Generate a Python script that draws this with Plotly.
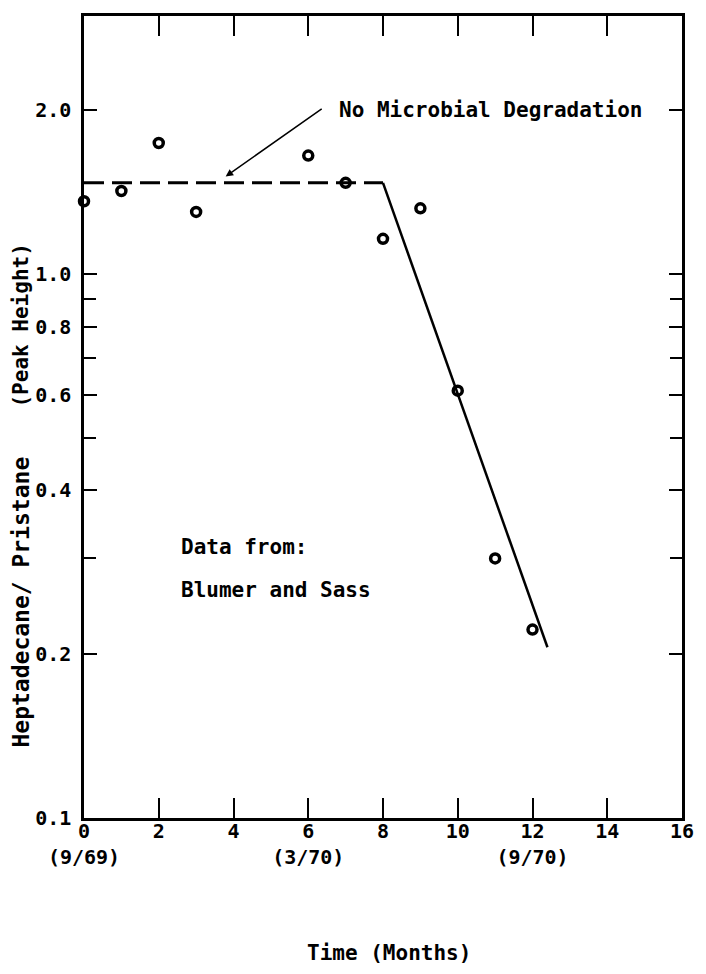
import math
import plotly.graph_objects as go

# ---- data ----
months = [0, 1, 2, 3, 6, 7, 8, 9, 10, 11, 12]
ratio = [1.36, 1.42, 1.74, 1.30, 1.65, 1.47, 1.16, 1.32, 0.61, 0.30, 0.222]

plateau_x = [0, 8]
plateau_y = [1.47, 1.47]
decline_x = [8, 12.4]
decline_y = [1.47, 0.206]

x_tickvals = [0, 2, 4, 6, 8, 10, 12, 14, 16]
x_ticktext = ["0<br>(9/69)", "2", "4", "6<br>(3/70)", "8", "10", "12<br>(9/70)", "14", "16"]
y_tickvals = [0.1, 0.2, 0.4, 0.6, 0.8, 1.0, 2.0]
y_ticktext = ["0.1", "0.2", "0.4", "0.6", "0.8", "1.0", "2.0"]
y_minorvals = [0.3, 0.5, 0.7, 0.9]

FONT = "DejaVu Sans Mono"
fsize = 20
asize = 21

fig = go.Figure()
fig.add_trace(go.Scatter(x=plateau_x, y=plateau_y, mode="lines",
                         line=dict(color="black", width=3, dash="20px,8px"),
                         showlegend=False))
fig.add_trace(go.Scatter(x=decline_x, y=decline_y, mode="lines",
                         line=dict(color="black", width=2.5),
                         showlegend=False))
fig.add_trace(go.Scatter(x=months, y=ratio, mode="markers",
                         marker=dict(symbol="circle-open", size=9, color="black",
                                     line=dict(width=3.5, color="black")),
                         showlegend=False, cliponaxis=False))

fig.update_layout(
    width=706, height=974,
    margin=dict(l=84, r=19, t=16, b=156),
    paper_bgcolor="white", plot_bgcolor="white",
    font=dict(family=FONT, size=fsize, color="black", weight="bold"),
    xaxis=dict(range=[0, 16], tickvals=x_tickvals, ticktext=x_ticktext,
               ticks="inside", ticklen=20, tickwidth=2, tickcolor="black",
               showline=True, linewidth=2.5, linecolor="black", mirror="ticks",
               showgrid=False, zeroline=False, ticklabelstandoff=-7),
    yaxis=dict(type="log", range=[-1, 0.474], tickvals=y_tickvals, ticktext=y_ticktext,
               ticks="inside", ticklen=13, tickwidth=2, tickcolor="black",
               showline=True, linewidth=2.5, linecolor="black", mirror="ticks",
               showgrid=False, zeroline=False, ticklabelstandoff=6,
               minor=dict(tickvals=y_minorvals, ticks="inside", ticklen=12,
                          tickwidth=2, tickcolor="black", showgrid=False)),
)

# long ticks at 1.0 on both sides
fig.add_shape(type="line", xref="paper", yref="y", x0=0, x1=37 / 603, y0=0, y1=0,
              line=dict(color="black", width=2))
fig.add_shape(type="line", xref="paper", yref="y", x0=1 - 37 / 603, x1=1, y0=0, y1=0,
              line=dict(color="black", width=2))

# arrow annotation
fig.add_annotation(x=3.79, y=math.log10(1.51), ax=6.4, ay=math.log10(2.02),
                   xref="x", yref="y", axref="x", ayref="y", text="",
                   showarrow=True, arrowhead=2, arrowsize=1, arrowwidth=1.5,
                   arrowcolor="black")
fig.add_annotation(x=6.77, y=math.log10(2.0), xref="x", yref="y",
                   text="No Microbial Degradation", showarrow=False,
                   xanchor="left", yanchor="middle", font=dict(size=asize))
fig.add_annotation(x=2.55, y=math.log10(0.315), xref="x", yref="y",
                   text="Data from:", showarrow=False, xanchor="left", yanchor="middle",
                   font=dict(size=asize))
fig.add_annotation(x=2.55, y=math.log10(0.262), xref="x", yref="y",
                   text="Blumer and Sass", showarrow=False, xanchor="left", yanchor="middle",
                   font=dict(size=asize))

# axis titles
fig.add_annotation(x=(392 - 84) / 603, y=(818 - 953) / 802, xref="paper", yref="paper",
                   text="Time (Months)", showarrow=False, xanchor="center", yanchor="middle",
                   font=dict(size=asize))
fig.add_annotation(x=(20 - 84) / 603, y=(818 - 602) / 802, xref="paper", yref="paper",
                   text="Heptadecane/ Pristane", showarrow=False,
                   textangle=-90, xanchor="center", yanchor="middle", font=dict(size=23))
fig.add_annotation(x=(20 - 84) / 603, y=(818 - 326) / 802, xref="paper", yref="paper",
                   text="(Peak Height)", showarrow=False,
                   textangle=-90, xanchor="center", yanchor="middle", font=dict(size=21))

fig.write_html("out.html")
